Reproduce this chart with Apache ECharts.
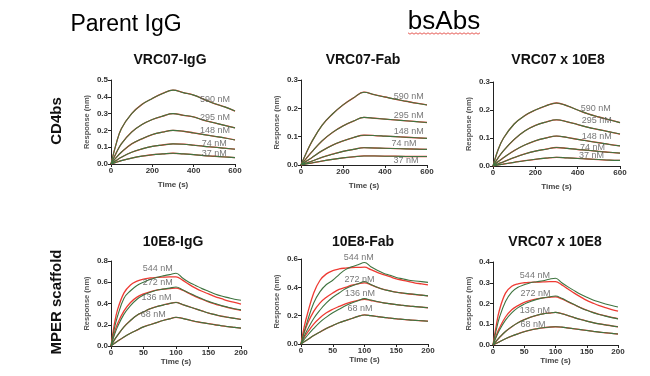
<!DOCTYPE html>
<html><head><meta charset="utf-8">
<script src="https://cdn.jsdelivr.net/npm/echarts@6/dist/echarts.min.js"></script>
<style>html,body{margin:0;padding:0;background:#fff}#c{width:650px;height:376px}</style>
</head><body><div id="c"></div>
<script>
// ---------- data ----------
const tTop = [0,25,50,100,150,200,250,300,350,400,450,500,550,600];
const tBot = [0,5,10,20,30,40,50,60,70,80,90,100,110,120,130,140,150,160,170,180,190,200];

const concTop = ['590 nM','295 nM','148 nM','74 nM','37 nM'];
const concBot = ['544 nM','272 nM','136 nM','68 nM'];

// Panel 1: VRC07-IgG
const p1_590 = [0,0.12,0.21,0.30,0.355,0.39,0.42,0.44,0.425,0.41,0.385,0.36,0.34,0.315];
const p1_295 = [0,0.065,0.12,0.19,0.235,0.265,0.285,0.30,0.29,0.28,0.26,0.245,0.23,0.215];
const p1_148 = [0,0.038,0.07,0.12,0.15,0.175,0.19,0.20,0.195,0.185,0.175,0.165,0.155,0.143];
const p1_74  = [0,0.021,0.04,0.07,0.09,0.105,0.113,0.12,0.118,0.112,0.105,0.10,0.094,0.088];
const p1_37  = [0,0.01,0.02,0.035,0.047,0.055,0.06,0.064,0.06,0.056,0.05,0.046,0.042,0.038];
const p1_lblX = [503,503,503,500,500];
const p1_lblY = [0.385,0.278,0.20,0.123,0.063];

// Panel 2: VRC07-Fab
const p2_590 = [0,0.042,0.08,0.14,0.18,0.212,0.237,0.257,0.248,0.24,0.232,0.225,0.218,0.212];
const p2_295 = [0,0.023,0.045,0.085,0.115,0.138,0.155,0.168,0.165,0.162,0.159,0.156,0.153,0.15];
const p2_148 = [0,0.013,0.025,0.05,0.07,0.085,0.097,0.105,0.104,0.102,0.10,0.098,0.096,0.094];
const p2_74  = [0,0.007,0.013,0.027,0.038,0.048,0.055,0.061,0.06,0.059,0.058,0.057,0.056,0.055];
const p2_37  = [0,0.004,0.007,0.014,0.02,0.025,0.029,0.032,0.032,0.031,0.031,0.03,0.03,0.03];
const p2_lblX = [513,513,513,490,500];
const p2_lblY = [0.241,0.176,0.118,0.075,0.016];

// Panel 3: VRC07 x 10E8 (CD4bs)
const p3_590 = [0,0.06,0.10,0.15,0.18,0.20,0.215,0.225,0.215,0.20,0.186,0.175,0.165,0.155];
const p3_295 = [0,0.03,0.055,0.095,0.125,0.145,0.157,0.165,0.158,0.148,0.138,0.13,0.122,0.114];
const p3_148 = [0,0.016,0.03,0.055,0.075,0.09,0.10,0.107,0.102,0.095,0.089,0.083,0.077,0.072];
const p3_74  = [0,0.008,0.015,0.03,0.043,0.053,0.06,0.066,0.063,0.059,0.056,0.052,0.049,0.046];
const p3_37  = [0,0.004,0.007,0.013,0.019,0.024,0.028,0.031,0.029,0.027,0.025,0.023,0.021,0.02];
const p3_lblX = [485,490,490,470,465];
const p3_lblY = [0.204,0.163,0.106,0.067,0.038];

// Panel 4: 10E8-IgG (data / fit)
const p4_544 = [0,0.16,0.28,0.45,0.52,0.57,0.60,0.625,0.645,0.66,0.672,0.685,0.64,0.60,0.57,0.54,0.515,0.49,0.47,0.455,0.44,0.43];
const p4_544fit = [0,0.2,0.34,0.5,0.575,0.61,0.63,0.64,0.645,0.648,0.65,0.65,0.62,0.58,0.545,0.515,0.49,0.465,0.445,0.425,0.41,0.395];
const p4_272 = [0,0.1,0.18,0.3,0.38,0.44,0.48,0.505,0.525,0.535,0.545,0.555,0.53,0.50,0.47,0.445,0.42,0.40,0.38,0.365,0.35,0.34];
const p4_272fit = [0,0.12,0.21,0.33,0.41,0.46,0.49,0.51,0.525,0.535,0.54,0.545,0.525,0.495,0.465,0.44,0.415,0.395,0.378,0.362,0.348,0.336];
const p4_136 = [0,0.055,0.1,0.18,0.24,0.29,0.32,0.35,0.37,0.385,0.40,0.41,0.39,0.37,0.35,0.33,0.31,0.295,0.28,0.27,0.26,0.25];
const p4_68  = [0,0.023,0.045,0.085,0.12,0.15,0.18,0.20,0.22,0.24,0.255,0.27,0.26,0.245,0.23,0.22,0.21,0.20,0.19,0.182,0.175,0.168];
const p4_lblX = [72,72,70,65];
const p4_lblY = [0.728,0.593,0.452,0.295];

// Panel 5: 10E8-Fab
const p5_544 = [0,0.085,0.16,0.29,0.37,0.42,0.45,0.49,0.525,0.545,0.56,0.575,0.545,0.52,0.50,0.485,0.47,0.46,0.45,0.445,0.44,0.435];
const p5_544fit = [0,0.12,0.21,0.36,0.45,0.495,0.518,0.53,0.536,0.54,0.541,0.542,0.525,0.505,0.49,0.475,0.46,0.45,0.44,0.43,0.425,0.418];
const p5_272 = [0,0.055,0.1,0.18,0.24,0.29,0.33,0.36,0.39,0.41,0.425,0.44,0.42,0.40,0.385,0.375,0.365,0.36,0.355,0.35,0.345,0.34];
const p5_272fit = [0,0.08,0.14,0.23,0.29,0.33,0.36,0.385,0.40,0.415,0.425,0.432,0.418,0.40,0.386,0.375,0.366,0.359,0.353,0.348,0.344,0.34];
const p5_136 = [0,0.032,0.06,0.11,0.155,0.19,0.22,0.245,0.27,0.29,0.305,0.32,0.31,0.30,0.29,0.285,0.278,0.273,0.268,0.264,0.26,0.256];
const p5_136fit = [0,0.045,0.08,0.14,0.185,0.22,0.245,0.265,0.283,0.297,0.308,0.316,0.307,0.298,0.29,0.284,0.278,0.273,0.268,0.264,0.26,0.256];
const p5_68  = [0,0.016,0.03,0.06,0.085,0.11,0.13,0.15,0.165,0.18,0.195,0.205,0.2,0.194,0.188,0.183,0.178,0.174,0.17,0.167,0.164,0.161];
const p5_lblX = [91,92,93,93];
const p5_lblY = [0.607,0.454,0.355,0.249];

// Panel 6: VRC07 x 10E8 (MPER)
const p6_544 = [0,0.07,0.13,0.21,0.255,0.278,0.29,0.30,0.305,0.31,0.317,0.322,0.30,0.28,0.262,0.245,0.23,0.217,0.207,0.198,0.19,0.183];
const p6_544fit = [0,0.09,0.165,0.25,0.283,0.295,0.30,0.302,0.303,0.304,0.305,0.305,0.29,0.27,0.25,0.232,0.215,0.202,0.19,0.18,0.171,0.163];
const p6_272 = [0,0.037,0.07,0.12,0.155,0.18,0.197,0.21,0.22,0.227,0.232,0.236,0.225,0.21,0.195,0.18,0.167,0.156,0.147,0.139,0.132,0.126];
const p6_272fit = [0,0.045,0.08,0.135,0.17,0.19,0.205,0.215,0.222,0.227,0.23,0.232,0.222,0.208,0.194,0.18,0.168,0.157,0.148,0.14,0.133,0.127];
const p6_136 = [0,0.018,0.035,0.065,0.088,0.107,0.122,0.134,0.143,0.15,0.154,0.157,0.151,0.142,0.132,0.123,0.115,0.108,0.102,0.097,0.092,0.088];
const p6_68  = [0,0.008,0.015,0.03,0.043,0.054,0.064,0.072,0.078,0.083,0.086,0.088,0.086,0.082,0.078,0.074,0.07,0.066,0.062,0.059,0.056,0.053];
const p6_lblX = [67,68,67,64];
const p6_lblY = [0.336,0.248,0.168,0.099];

const panelTitles = ['VRC07-IgG','VRC07-Fab','VRC07 x 10E8','10E8-IgG','10E8-Fab','VRC07 x 10E8'];
const yMax = [0.5,0.3,0.3,0.8,0.6,0.4];
const yStep = [0.1,0.1,0.1,0.2,0.2,0.1];

// ---------- assembly ----------
const panels = [
  {t:tTop, conc:concTop, data:[p1_590,p1_295,p1_148,p1_74,p1_37], fit:[p1_590,p1_295,p1_148,p1_74,p1_37], lx:p1_lblX, ly:p1_lblY, xmax:600, xstep:200},
  {t:tTop, conc:concTop, data:[p2_590,p2_295,p2_148,p2_74,p2_37], fit:[p2_590,p2_295,p2_148,p2_74,p2_37], lx:p2_lblX, ly:p2_lblY, xmax:600, xstep:200},
  {t:tTop, conc:concTop, data:[p3_590,p3_295,p3_148,p3_74,p3_37], fit:[p3_590,p3_295,p3_148,p3_74,p3_37], lx:p3_lblX, ly:p3_lblY, xmax:600, xstep:200},
  {t:tBot, conc:concBot, data:[p4_544,p4_272,p4_136,p4_68], fit:[p4_544fit,p4_272fit,p4_136,p4_68], lx:p4_lblX, ly:p4_lblY, xmax:200, xstep:50},
  {t:tBot, conc:concBot, data:[p5_544,p5_272,p5_136,p5_68], fit:[p5_544fit,p5_272fit,p5_136fit,p5_68], lx:p5_lblX, ly:p5_lblY, xmax:200, xstep:50},
  {t:tBot, conc:concBot, data:[p6_544,p6_272,p6_136,p6_68], fit:[p6_544fit,p6_272fit,p6_136,p6_68], lx:p6_lblX, ly:p6_lblY, xmax:200, xstep:50}
];

const gridPos = [
  {left:111, top:80, width:124, height:84},
  {left:301, top:80, width:126, height:85},
  {left:493, top:82, width:127, height:84},
  {left:111, top:261, width:130, height:85},
  {left:301, top:259, width:127, height:85},
  {left:493, top:262, width:125, height:83}
];
const titlePos = [[170,60],[363,60],[558,60],[173,242],[363,242],[555,242]];
const xNameGap = [17,17,17,12,12,12];

const FONT = 'Liberation Sans, Arial, sans-serif';
const GREEN = '#3f7440';
const RED = '#ee3b33';

const grids = [], xAxes = [], yAxes = [], series = [];
panels.forEach((p, i) => {
  grids.push(Object.assign({containLabel:false}, gridPos[i]));
  xAxes.push({
    type:'value', gridIndex:i, min:0, max:p.xmax, interval:p.xstep,
    name:'Time (s)', nameLocation:'middle', nameGap:xNameGap[i],
    nameTextStyle:{fontSize:8, fontWeight:'bold', color:'#444', fontFamily:FONT},
    axisLine:{show:true, lineStyle:{color:'#222', width:1}},
    axisTick:{show:true, length:3, lineStyle:{color:'#222'}},
    axisLabel:{fontSize:8, fontWeight:'bold', color:'#333', margin:3, fontFamily:FONT},
    splitLine:{show:false}
  });
  yAxes.push({
    type:'value', gridIndex:i, min:0, max:yMax[i], interval:yStep[i],
    name:'Response (nm)', nameLocation:'middle', nameGap:20,
    nameTextStyle:{fontSize:7.5, fontWeight:'bold', color:'#555', fontFamily:FONT},
    axisLine:{show:true, lineStyle:{color:'#222', width:1}},
    axisTick:{show:true, length:3, lineStyle:{color:'#222'}},
    axisLabel:{fontSize:8, fontWeight:'bold', color:'#333', margin:3, fontFamily:FONT,
      formatter: v => v.toFixed(1)},
    splitLine:{show:false}
  });
  p.fit.forEach((arr) => {
    series.push({type:'line', xAxisIndex:i, yAxisIndex:i, showSymbol:false, smooth:0.4,
      z:2, silent:true, lineStyle:{color:RED, width:1.3},
      data: p.t.map((t, k) => [t, arr[k]])});
  });
  p.data.forEach((arr) => {
    series.push({type:'line', xAxisIndex:i, yAxisIndex:i, showSymbol:false, smooth:0.4,
      z:3, silent:true, lineStyle:{color:GREEN, width:1.1},
      data: p.t.map((t, k) => [t, arr[k]])});
  });
  series.push({type:'scatter', xAxisIndex:i, yAxisIndex:i, symbolSize:0, z:4, silent:true, clip:false,
    data: p.conc.map((c, k) => [p.lx[k], p.ly[k], c]),
    label:{show:true, position:[0,0], align:'center', verticalAlign:'middle',
      formatter: q => q.data[2], fontSize:9, color:'#555', fontFamily:FONT}});
});

const graphics = [];
panelTitles.forEach((t, i) => {
  graphics.push({type:'text', x:titlePos[i][0], y:titlePos[i][1],
    style:{text:t, font:'bold 14px ' + FONT, fill:'#111', textAlign:'center', textVerticalAlign:'middle'}});
});
graphics.push({type:'text', x:126, y:25, style:{text:'Parent IgG', font:'23px ' + FONT, fill:'#000', textAlign:'center', textVerticalAlign:'middle'}});
graphics.push({type:'text', x:444, y:22, style:{text:'bsAbs', font:'26px ' + FONT, fill:'#000', textAlign:'center', textVerticalAlign:'middle'}});
// spell-check style wavy underline under "bsAbs"
const wave = [];
for (let x = 408, k = 0; x <= 481; x += 2, k++) wave.push([x, 33 + (k % 2 ? 1.2 : -0.2)]);
graphics.push({type:'polyline', shape:{points:wave}, style:{stroke:'#e0342c', lineWidth:0.8, fill:null}});
graphics.push({type:'text', x:57, y:121, rotation:Math.PI/2, style:{text:'CD4bs', font:'bold 15px ' + FONT, fill:'#111', textAlign:'center', textVerticalAlign:'middle'}});
graphics.push({type:'text', x:57, y:302, rotation:Math.PI/2, style:{text:'MPER scaffold', font:'bold 15px ' + FONT, fill:'#111', textAlign:'center', textVerticalAlign:'middle'}});

const chart = echarts.init(document.getElementById('c'), null, {renderer:'canvas'});
chart.setOption({
  animation:false,
  backgroundColor:'#fff',
  grid:grids, xAxis:xAxes, yAxis:yAxes, series:series, graphic:graphics
});
</script></body></html>
